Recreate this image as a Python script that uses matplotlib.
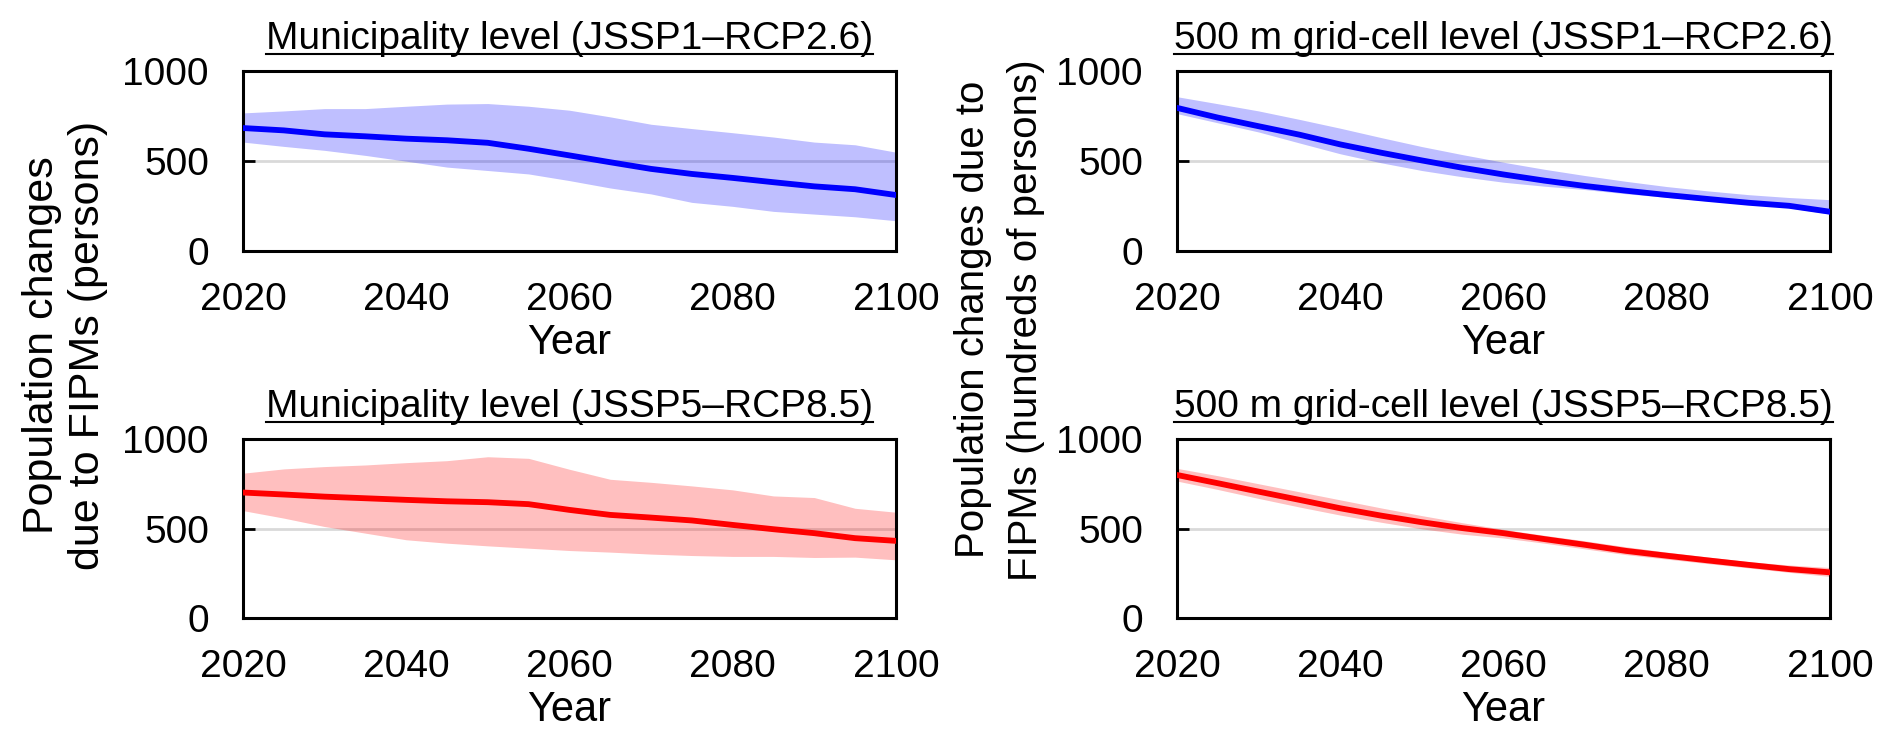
import matplotlib
matplotlib.use('Agg')
import matplotlib.pyplot as plt
from matplotlib.lines import Line2D

plt.rcParams['font.family'] = ['Liberation Sans', 'DejaVu Sans']

years = list(range(2020, 2101, 5))

# Municipality level, JSSP1-RCP2.6
muni_ssp1_mean = [683, 670, 648, 637, 624, 615, 601, 568, 531, 493, 456, 428, 406, 382, 359, 343, 311]
muni_ssp1_high = [767, 778, 791, 791, 804, 816, 819, 804, 782, 745, 704, 680, 657, 633, 605, 590, 549]
muni_ssp1_low = [605, 581, 559, 531, 499, 466, 447, 428, 391, 350, 317, 270, 248, 220, 205, 190, 168]

# 500 m grid-cell level, JSSP1-RCP2.6 (hundreds of persons)
grid_ssp1_mean = [795, 741, 693, 646, 592, 546, 503, 462, 425, 391, 361, 335, 311, 289, 268, 251, 218]
grid_ssp1_high = [857, 818, 778, 731, 682, 630, 580, 535, 493, 454, 419, 387, 358, 334, 313, 297, 285]
grid_ssp1_low = [763, 712, 661, 600, 540, 490, 447, 412, 382, 360, 341, 318, 298, 278, 261, 240, 205]

# Municipality level, JSSP5-RCP8.5
muni_ssp5_mean = [701, 690, 678, 669, 660, 652, 647, 636, 604, 576, 561, 545, 520, 496, 474, 446, 431]
muni_ssp5_high = [809, 833, 846, 855, 868, 879, 901, 892, 831, 775, 758, 738, 716, 682, 673, 613, 591]
muni_ssp5_low = [600, 558, 511, 474, 437, 418, 403, 390, 377, 368, 357, 349, 344, 344, 338, 340, 325]

# 500 m grid-cell level, JSSP5-RCP8.5 (hundreds of persons)
grid_ssp5_mean = [799, 753, 706, 660, 613, 572, 535, 502, 474, 441, 409, 375, 348, 322, 297, 273, 255]
grid_ssp5_high = [836, 795, 750, 705, 660, 615, 572, 532, 495, 462, 431, 398, 368, 341, 315, 296, 282]
grid_ssp5_low = [765, 718, 668, 620, 575, 535, 498, 468, 447, 418, 386, 354, 329, 304, 280, 255, 232]

titles = ['Municipality level (JSSP1\u2013RCP2.6)', '500 m grid-cell level (JSSP1\u2013RCP2.6)',
          'Municipality level (JSSP5\u2013RCP8.5)', '500 m grid-cell level (JSSP5\u2013RCP8.5)']
panels = [
    (muni_ssp1_mean, muni_ssp1_low, muni_ssp1_high, '#0000FF'),
    (grid_ssp1_mean, grid_ssp1_low, grid_ssp1_high, '#0000FF'),
    (muni_ssp5_mean, muni_ssp5_low, muni_ssp5_high, '#FF0000'),
    (grid_ssp5_mean, grid_ssp5_low, grid_ssp5_high, '#FF0000'),
]

fig = plt.figure(figsize=(18.92, 7.47), dpi=100)
positions = [
    [0.1284, 0.6640, 0.3451, 0.2410],
    [0.6221, 0.6640, 0.3451, 0.2410],
    [0.1284, 0.1727, 0.3451, 0.2396],
    [0.6221, 0.1727, 0.3451, 0.2396],
]

axes = []
for pos, title, (mean, low, high, col) in zip(positions, titles, panels):
    ax = fig.add_axes(pos)
    ax.axhline(500, color='#D9D9D9', lw=2, zorder=0)
    ax.fill_between(years, low, high, color=col, alpha=0.25, lw=0, zorder=1)
    ax.plot(years, mean, color=col, lw=4.2, zorder=3)
    ax.set_xlim(2020, 2100)
    ax.set_ylim(0, 1000)
    ax.set_xticks([2020, 2040, 2060, 2080, 2100])
    ax.set_yticks([0, 500, 1000])
    ax.tick_params(axis='y', direction='in', length=8.4, width=2, labelsize=28, pad=24.5)
    ax.tick_params(axis='x', length=0, labelsize=28, pad=22)
    for sp in ax.spines.values():
        sp.set_linewidth(2.2)
    ax.set_xlabel('Year', fontsize=30, labelpad=4)
    ax.set_title(title, fontsize=28, pad=16)
    axes.append(ax)

fig.text(0.0345, 0.538, 'Population changes\ndue to FIPMs (persons)', rotation=90,
         ha='center', va='center', fontsize=31, multialignment='center')
fig.text(0.5285, 0.572, 'Population changes due to\nFIPMs (hundreds of persons)', rotation=90,
         ha='center', va='center', fontsize=29, multialignment='center', linespacing=1.5)

# underline the panel titles
fig.canvas.draw()
renderer = fig.canvas.get_renderer()
inv = fig.transFigure.inverted()
for ax in axes:
    bb = ax.title.get_window_extent(renderer)
    y = bb.y0 + 3
    (x0, yy), (x1, _) = inv.transform([(bb.x0, y), (bb.x1, y)])
    fig.add_artist(Line2D([x0, x1], [yy, yy], color='black', lw=1.5, transform=fig.transFigure))

fig.savefig('out.png', dpi=100)
